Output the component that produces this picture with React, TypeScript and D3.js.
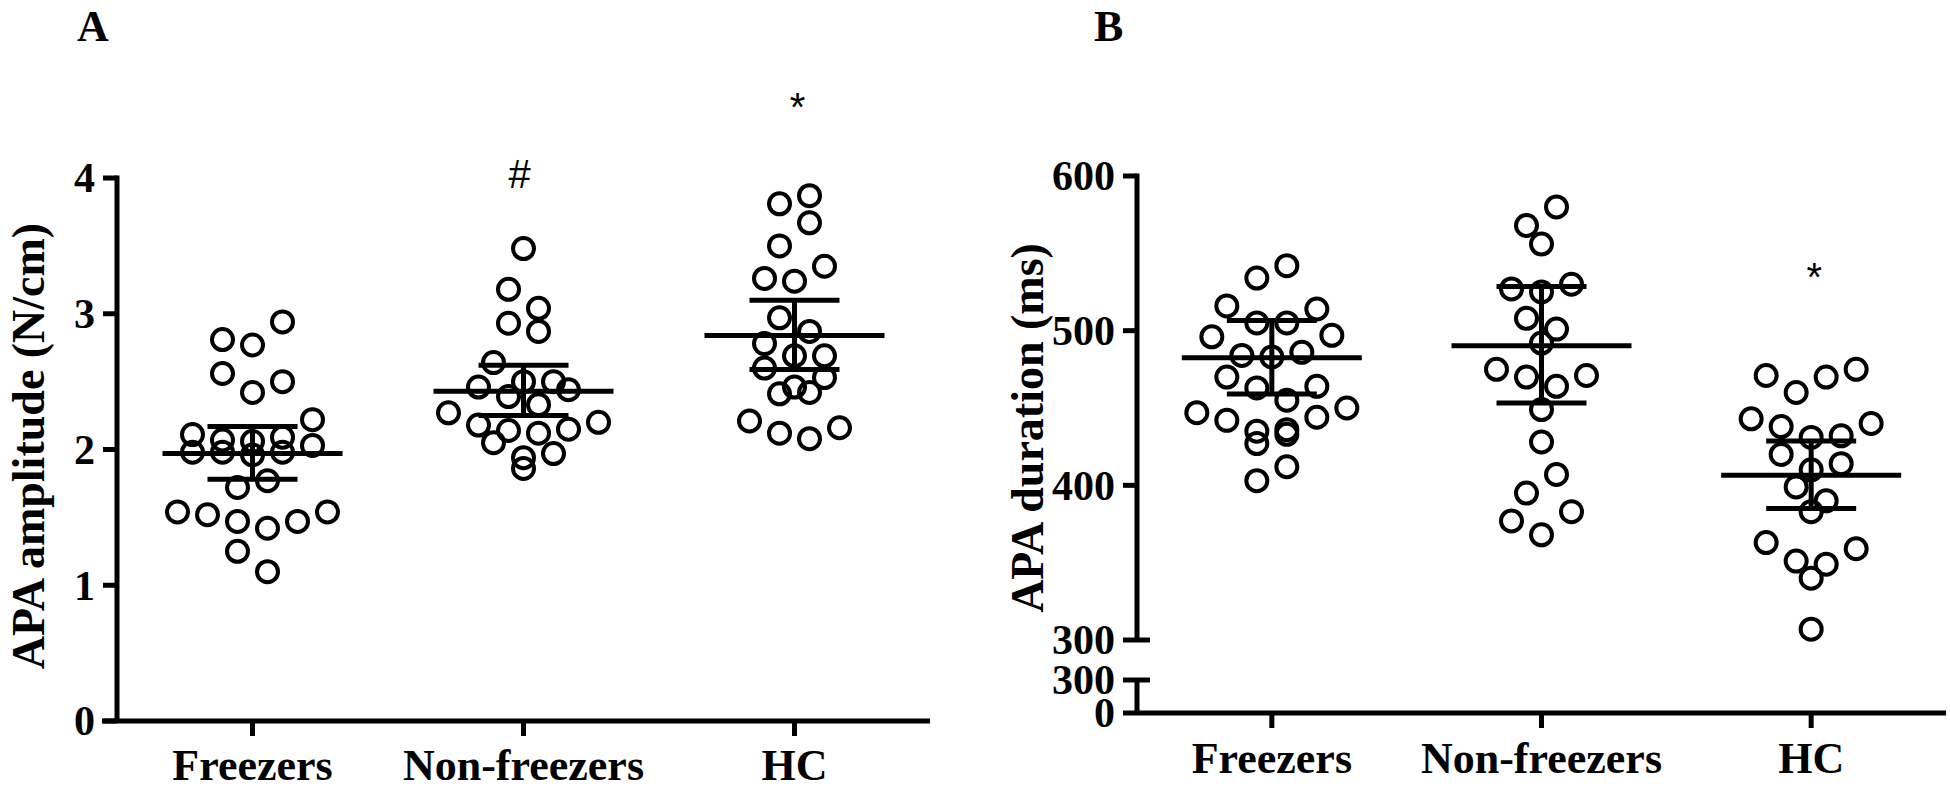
import React from "react";
import * as d3 from "d3";

const categories = ["Freezers", "Non-freezers", "HC"];

const ampFreezers = [2.94, 2.81, 2.77, 2.56, 2.5, 2.42, 2.22, 2.11, 2.09, 2.07, 2.06, 2.03, 1.98, 1.98, 1.98, 1.96, 1.77, 1.72, 1.54, 1.54, 1.52, 1.47, 1.47, 1.42, 1.25, 1.1];
const ampNonFreezers = [3.48, 3.18, 3.04, 2.93, 2.87, 2.64, 2.5, 2.5, 2.46, 2.44, 2.39, 2.33, 2.27, 2.2, 2.18, 2.15, 2.14, 2.12, 2.05, 1.97, 1.94, 1.86];
const ampHC = [3.87, 3.81, 3.67, 3.5, 3.35, 3.26, 3.24, 2.97, 2.87, 2.78, 2.69, 2.69, 2.6, 2.53, 2.46, 2.42, 2.41, 2.21, 2.16, 2.12, 2.08];
const ampMean = [1.97, 2.43, 2.84];
const ampLow = [1.78, 2.25, 2.59];
const ampHigh = [2.17, 2.62, 3.1];
const ampTicks = [0, 1, 2, 3, 4];
const ampMarks = ["", "#", "*"];

const durFreezers = [542, 534, 516, 514, 505, 505, 497, 496, 486, 484, 483, 470, 464, 463, 455, 450, 447, 444, 442, 436, 435, 433, 427, 412, 403];
const durNonFreezers = [580, 568, 556, 530, 527, 525, 508, 501, 492, 475, 471, 470, 464, 449, 428, 407, 395, 383, 377, 368];
const durHC = [475, 471, 470, 460, 443, 440, 438, 432, 431, 420, 414, 410, 399, 390, 383, 363, 359, 351, 349, 340, 307];
const durMean = [482.5, 490.3, 406.5];
const durLow = [459.1, 453.2, 385.1];
const durHigh = [506.5, 528.6, 428.6];
const durTicksUpper = [300, 400, 500, 600];
const durTicksLower = [0, 300];
const durMarks = ["", "", "*"];

const SERIF = "'Liberation Serif', 'Times New Roman', serif";
const SANS = "'Liberation Sans', Arial, sans-serif";

// GraphPad-like row layout: points grouped into rows from the top, placed outside-in
function rowLayout(values: number[], y: (v: number) => number, H = 24, spacing = 30, maxW = 150) {
  const order = values.map((_, i) => i).sort((a, b) => values[b] - values[a]);
  const xs: number[] = new Array(values.length).fill(0);
  const placed: { x: number; y: number }[] = [];
  let rowIdx = 0;
  let i = 0;
  const arrange = (row: number[], startRight: boolean) => {
    const n = row.length;
    const sp = n > 1 ? Math.min(spacing, maxW / (n - 1)) : 0;
    let lo = 0;
    let hi = n - 1;
    let side = startRight ? 1 : 0;
    const out: number[] = [];
    for (let j = 0; j < n; j++) {
      let k: number;
      if (side === 1) {
        k = hi;
        hi--;
      } else {
        k = lo;
        lo++;
      }
      side = 1 - side;
      out.push((k - (n - 1) / 2) * sp);
    }
    return out;
  };
  const minDist = (row: number[], offs: number[]) => {
    let m = Infinity;
    row.forEach((idx, j) => {
      const py = y(values[idx]);
      for (const p of placed) m = Math.min(m, Math.hypot(p.x - offs[j], p.y - py));
    });
    return m;
  };
  while (i < order.length) {
    const startY = y(values[order[i]]);
    const row = [order[i]];
    i++;
    while (i < order.length && y(values[order[i]]) - startY < H) {
      row.push(order[i]);
      i++;
    }
    const pref = rowIdx % 2 === 0;
    let offs = arrange(row, pref);
    const d1 = minDist(row, offs);
    if (d1 < 24) {
      const alt = arrange(row, !pref);
      if (minDist(row, alt) > d1) offs = alt;
    }
    row.forEach((idx, j) => {
      xs[idx] = offs[j];
      placed.push({ x: offs[j], y: y(values[idx]) });
    });
    rowIdx++;
  }
  return xs;
}

type PanelProps = {
  letter: string;
  letterX: number;
  groups: number[][];
  means: number[];
  lows: number[];
  highs: number[];
  marks: string[];
  markY: number[];
  y: d3.ScaleLinear<number, number>;
  x: d3.ScaleBand<string>;
  xAxisY: number;
  xAxisLeft: number;
  xAxisRight: number;
  yAxisX: number;
  ticks: number[];
  lower?: { scale: d3.ScaleLinear<number, number>; ticks: number[] };
  yLabel: string;
  yLabelX: number;
  yLabelY: number;
  catLabelY: number;
};

function Panel(p: PanelProps) {
  const sw = 5;
  return (
    <g>
      <text x={p.letterX} y={41} fontFamily={SERIF} fontWeight="bold" fontSize={44}>
        {p.letter}
      </text>
      <text
        transform={`translate(${p.yLabelX},${p.yLabelY}) rotate(-90)`}
        textAnchor="middle"
        fontFamily={SERIF}
        fontWeight="bold"
        fontSize={46}
      >
        {p.yLabel}
      </text>
      <line x1={p.yAxisX} x2={p.yAxisX} y1={p.y(p.ticks[p.ticks.length - 1]) - sw / 2} y2={p.lower ? p.y(p.ticks[0]) : p.xAxisY} stroke="#000" strokeWidth={sw} />
      {p.ticks.map((t, i) => (
        <g key={"t" + t}>
          <line
            x1={p.yAxisX - 14}
            x2={p.lower && i === 0 ? p.yAxisX + 13 : p.yAxisX}
            y1={p.y(t)}
            y2={p.y(t)}
            stroke="#000"
            strokeWidth={sw}
          />
          <text x={p.yAxisX - 22} y={p.y(t)} dy="0.34em" textAnchor="end" fontFamily={SERIF} fontWeight="bold" fontSize={42}>
            {t}
          </text>
        </g>
      ))}
      {p.lower && (
        <g>
          <line x1={p.yAxisX} x2={p.yAxisX} y1={p.lower.scale(p.lower.ticks[1])} y2={p.xAxisY} stroke="#000" strokeWidth={sw} />
          {p.lower.ticks.map((t, i) => (
            <g key={"l" + t}>
              {i > 0 && (
                <line x1={p.yAxisX - 14} x2={p.yAxisX + 13} y1={p.lower!.scale(t)} y2={p.lower!.scale(t)} stroke="#000" strokeWidth={sw} />
              )}
              <text x={p.yAxisX - 22} y={p.lower!.scale(t)} dy="0.34em" textAnchor="end" fontFamily={SERIF} fontWeight="bold" fontSize={42}>
                {t}
              </text>
            </g>
          ))}
        </g>
      )}
      <line x1={p.xAxisLeft} x2={p.xAxisRight} y1={p.xAxisY} y2={p.xAxisY} stroke="#000" strokeWidth={sw} />
      {categories.map((c) => {
        const cx = (p.x(c) as number) + p.x.bandwidth() / 2;
        return (
          <g key={c}>
            <line x1={cx} x2={cx} y1={p.xAxisY} y2={p.xAxisY + 15} stroke="#000" strokeWidth={sw} />
            <text x={cx} y={p.catLabelY} textAnchor="middle" fontFamily={SERIF} fontWeight="bold" fontSize={44}>
              {c}
            </text>
          </g>
        );
      })}
      {p.groups.map((vals, gi) => {
        const c = categories[gi];
        const cx = (p.x(c) as number) + p.x.bandwidth() / 2;
        const offs = rowLayout(vals, (v) => p.y(v));
        return (
          <g key={"g" + gi}>
            {vals.map((v, i) => (
              <circle key={i} cx={cx + offs[i]} cy={p.y(v)} r={10.5} fill="none" stroke="#000" strokeWidth={4} />
            ))}
            <line x1={cx - 90} x2={cx + 90} y1={p.y(p.means[gi])} y2={p.y(p.means[gi])} stroke="#000" strokeWidth={sw} />
            <line x1={cx} x2={cx} y1={p.y(p.lows[gi])} y2={p.y(p.highs[gi])} stroke="#000" strokeWidth={sw} />
            <line x1={cx - 45} x2={cx + 45} y1={p.y(p.lows[gi])} y2={p.y(p.lows[gi])} stroke="#000" strokeWidth={sw} />
            <line x1={cx - 45} x2={cx + 45} y1={p.y(p.highs[gi])} y2={p.y(p.highs[gi])} stroke="#000" strokeWidth={sw} />
            {p.marks[gi] && (
              <text x={cx + (p.marks[gi] === "*" ? 3 : -4)} y={p.markY[gi]} textAnchor="middle" fontFamily={SANS} fontSize={40}>
                {p.marks[gi]}
              </text>
            )}
          </g>
        );
      })}
    </g>
  );
}

export default function App() {
  const yA = d3.scaleLinear().domain([0, 4]).range([721, 178]);
  const xA = d3.scaleBand<string>().domain(categories).range([117, 930]).padding(0);
  const yB = d3.scaleLinear().domain([300, 600]).range([640, 176]);
  const yBLow = d3.scaleLinear().domain([0, 300]).range([713, 680]);
  const xB = d3.scaleBand<string>().domain(categories).range([1137, 1946]).padding(0);

  return (
    <svg width={1950} height={793} style={{ position: "absolute", left: 0, top: 0, background: "#fff" }}>
      <rect width={1950} height={793} fill="#fff" />
      <Panel
        letter="A"
        letterX={77}
        groups={[ampFreezers, ampNonFreezers, ampHC]}
        means={ampMean}
        lows={ampLow}
        highs={ampHigh}
        marks={ampMarks}
        markY={[0, 188, 121]}
        y={yA}
        x={xA}
        xAxisY={721}
        xAxisLeft={102}
        xAxisRight={930}
        yAxisX={117}
        ticks={ampTicks}
        yLabel="APA amplitude (N/cm)"
        yLabelX={44}
        yLabelY={446}
        catLabelY={780}
      />
      <Panel
        letter="B"
        letterX={1094}
        groups={[durFreezers, durNonFreezers, durHC]}
        means={durMean}
        lows={durLow}
        highs={durHigh}
        marks={durMarks}
        markY={[0, 0, 291]}
        y={yB}
        x={xB}
        xAxisY={713}
        xAxisLeft={1123}
        xAxisRight={1946}
        yAxisX={1137}
        ticks={durTicksUpper}
        lower={{ scale: yBLow, ticks: durTicksLower }}
        yLabel="APA duration (ms)"
        yLabelX={1043}
        yLabelY={428}
        catLabelY={773}
      />
    </svg>
  );
}
